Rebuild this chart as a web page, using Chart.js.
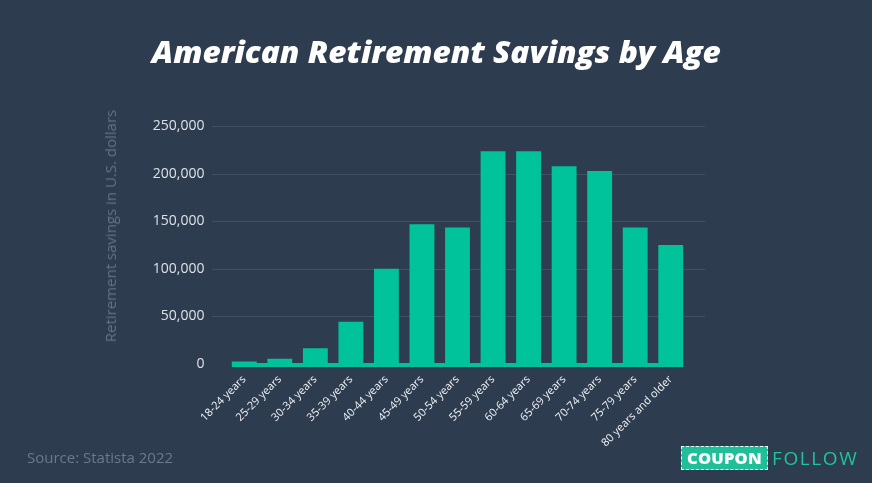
<!DOCTYPE html>
<html>
<head>
<meta charset="utf-8">
<script src="https://cdn.jsdelivr.net/npm/chart.js@4"></script>
<style>
  html, body { margin:0; padding:0; background:#2d3c4f; }
  #wrap { position:relative; width:872px; height:483px; background:#2d3c4f; overflow:hidden; }
  #chartBox { position:absolute; left:0; top:0; width:872px; height:483px; }
  #title { position:absolute; left:0; width:872px; top:33px; text-align:center; color:#fff; }
  #titleText { display:inline-block; white-space:nowrap; transform-origin:center center;
    font-family:'Open Sans', sans-serif; font-weight:800; font-style:italic; font-size:30px; line-height:38px; }
  #ytitle { position:absolute; left:110px; top:226px; transform:translate(-50%,-50%) rotate(-90deg);
    white-space:nowrap; color:#627185; font-family:'Open Sans', sans-serif; font-size:15px; }
  #source { position:absolute; left:27px; top:447px; color:#6a798b; font-family:'Open Sans', sans-serif; font-size:15px; }
  #logo { position:absolute; left:681px; top:446px; height:24px; display:flex; align-items:center; }
  #coupon { box-sizing:border-box; height:24px; width:87px; background:#1fbf99; border:1px dashed #ffffff;
    color:#fff; font-family:'Open Sans', sans-serif; font-weight:800; font-size:16.5px; line-height:22px; text-align:center; letter-spacing:0.2px; }
  #follow { margin-left:4px; color:#21c29c; font-family:'Open Sans', sans-serif; font-size:19px; line-height:24px; letter-spacing:1.6px; }
</style>
</head>
<body>
<div id="wrap">
  <div id="chartBox"><canvas id="c"></canvas></div>
  <div id="title"><span id="titleText">American Retirement Savings by Age</span></div>
  <div id="ytitle">Retirement savings in U.S. dollars</div>
  <div id="source">Source: Statista 2022</div>
  <div id="logo"><div id="coupon">COUPON</div><div id="follow">FOLLOW</div></div>
</div>
<script>
const categories = ['18-24 years','25-29 years','30-34 years','35-39 years','40-44 years','45-49 years','50-54 years','55-59 years','60-64 years','65-69 years','70-74 years','75-79 years','80 years and older'];
const savings = [2500, 5500, 16500, 44500, 100000, 146800, 143300, 223400, 223400, 207800, 202800, 143300, 125100];
const yTicks = [0, 50000, 100000, 150000, 200000, 250000];

const BG = '#2d3c4f';
const BAR = '#00c29b';
const GRID = '#415064';

// fit title to reference width
(function(){
  const t = document.getElementById('titleText');
  const w = t.getBoundingClientRect().width;
  if (w > 0) t.style.transform = 'scaleX(' + (569 / w) + ')';
})();

const gridPlugin = {
  id: 'extGrid',
  beforeDatasetsDraw(chart) {
    const {ctx, chartArea, scales} = chart;
    const y = scales.y;
    ctx.save();
    ctx.strokeStyle = GRID;
    ctx.lineWidth = 1;
    yTicks.forEach(v => {
      if (v === 0) return;
      const py = Math.round(y.getPixelForValue(v)) + 0.5;
      ctx.beginPath();
      ctx.moveTo(chartArea.left - 14.5, py);
      ctx.lineTo(chartArea.right + 16.5, py);
      ctx.stroke();
    });
    ctx.restore();
  },
  afterDatasetsDraw(chart) {
    const {ctx, scales} = chart;
    const meta = chart.getDatasetMeta(0);
    const first = meta.data[0], last = meta.data[meta.data.length - 1];
    const y0 = scales.y.getPixelForValue(0);
    ctx.save();
    ctx.fillStyle = BAR;
    const l = first.x - first.width / 2, r = last.x + last.width / 2;
    ctx.fillRect(l, y0 - 1, r - l, 4);
    ctx.restore();
  }
};

Chart.defaults.font.family = "'Open Sans', sans-serif";

new Chart(document.getElementById('c'), {
  type: 'bar',
  data: {
    labels: categories,
    datasets: [{
      data: savings,
      backgroundColor: BAR,
      borderWidth: 0,
      barPercentage: 0.7,
      categoryPercentage: 1.0
    }]
  },
  options: {
    responsive: true,
    maintainAspectRatio: false,
    animation: false,
    locale: 'en-US',
    layout: { padding: { left: 0, right: 183.5, top: 126, bottom: 0 } },
    plugins: { legend: { display: false }, tooltip: { enabled: false } },
    scales: {
      x: {
        grid: { display: false, drawTicks: false },
        border: { display: false },
        ticks: {
          color: '#f2f4f6', font: { size: 11, weight: '500' },
          maxRotation: 45, minRotation: 45, autoSkip: false, padding: 9
        },
        afterFit(s) { s.height = 119; }
      },
      y: {
        min: 0, max: 250000,
        grid: { display: false, drawTicks: false },
        border: { display: false },
        ticks: {
          color: '#dde2e8', font: { size: 14 }, stepSize: 50000, padding: 22
        },
        afterFit(s) { s.width = 226.5; }
      }
    }
  },
  plugins: [gridPlugin]
});
</script>
</body>
</html>
